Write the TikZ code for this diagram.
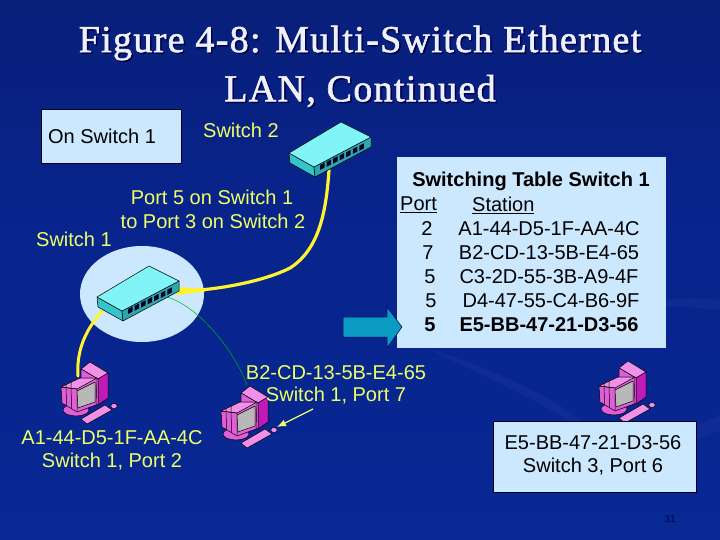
\documentclass[tikz,border=0pt]{standalone}
\usepackage{fontspec}
\usetikzlibrary{arrows.meta}
\setmainfont{Liberation Sans}
\newfontfamily\titlefont[LetterSpace=3.5,FakeBold=1.6]{Liberation Serif}
\definecolor{boxblue}{HTML}{CCE8FF}
\definecolor{lbl}{HTML}{EEFF66}
\definecolor{cable}{HTML}{FFF22E}
\definecolor{swtop}{HTML}{80F4F6}
\definecolor{swfront}{HTML}{35C4CC}
\definecolor{pk}{HTML}{E05FD8}
\definecolor{pkd}{HTML}{C01AB8}
\definecolor{pkl}{HTML}{F090E8}
\definecolor{ttlcol}{HTML}{EEF0FA}
\pgfdeclareverticalshading{slidebg}{100bp}{
  rgb(0bp)=(0.035,0.17,0.60);
  rgb(55bp)=(0.03,0.14,0.55);
  rgb(80bp)=(0.03,0.12,0.46);
  rgb(90bp)=(0.02,0.07,0.30);
  rgb(100bp)=(0.01,0.02,0.12)}
\tikzset{
  x=1pt,y=-1pt,
  every node/.style={font=\fontsize{20}{22}\selectfont},
  infobox/.style={fill=boxblue,draw=black!85!blue,line width=0.7pt},
  yl/.style={text=lbl,inner sep=0pt,yshift=-1pt},
  bk/.style={text=black,inner sep=0pt,yshift=-1pt},
  ttl/.style={inner sep=0pt,font=\titlefont\fontsize{38}{40}\selectfont},
  boldrow/.style={font=\bfseries\fontsize{20}{22}\selectfont},
  cablethick/.style={draw=cable,line width=3pt,line cap=round},
  swline/.style={draw=black,line width=0.5pt,line join=round},
  pics/switchbox/.style={code={
    \fill[swline,fill=swfront] (0,0)--(25,14)--(26,24)--(1,10)--cycle;
    \fill[swline,fill=swfront!85!black] (25,14)--(82,-16)--(82,-6)--(26,24)--cycle;
    \fill[swline,fill=swtop] (0,0)--(52,-31)--(82,-16)--(25,14)--cycle;
    \foreach \i in {0,...,6}{
      \fill[black!85!blue] ({31+6.55*\i},{12-3.2*\i}) --++(4.5,-2.4)--++(0,5)--++(-4.5,2.4)--cycle;}
  }},
  pics/computer/.style={code={
    \fill[swline,fill=pkl] (30,2)--(48,13)--(38,19)--(21,9)--cycle;
    \fill[swline,fill=pkd] (38,19)--(48,13)--(48,38)--(38,45)--cycle;
    \fill[swline,fill=pk] (21,9)--(38,19)--(38,45)--(21,40)--cycle;
    \fill[swline,fill=pk] (16,50) ellipse [x radius=13,y radius=6];
    \fill[swline,fill=pk] (1,27)--(20,18)--(37,18)--(36,45)--(17,52)--(2,43)--cycle;
    \fill[swline,fill=pkl] (1,27)--(20,18)--(37,18)--(17,29)--cycle;
    \draw[swline] (6,24.5)--(6.5,46) (11,22)--(11.5,49) (1,27)--(17,29)--(17,52);
    \fill[swline,fill=black!28] (17,31)--(35,22)--(35,42)--(18,48)--cycle;
    \fill[swline,fill=pkl] (21,59)--(45,45)--(52,50)--(27,64)--cycle;
    \fill[swline,fill=pkl] (54,46) ellipse [x radius=3.3,y radius=2.5];
  }}
}
\begin{document}
\begin{tikzpicture}
\useasboundingbox (0,0) rectangle (720,540);
\shade[shading=slidebg] (0,0) rectangle (720,540);
% faint background swooshes
\fill[white,opacity=0.03] (420,345) .. controls (520,380) and (590,410) .. (612,460) .. controls (580,415) and (500,385) .. (420,345)--cycle;
\fill[white,opacity=0.03] (520,470) .. controls (600,460) and (670,440) .. (720,415) -- (720,430) .. controls (660,455) and (590,470) .. (520,470)--cycle;
\fill[white,opacity=0.03] (600,320) .. controls (640,300) and (680,295) .. (720,300) -- (720,310) .. controls (680,305) and (640,305) .. (600,320)--cycle;

\node[ttl,text=black!70!blue] (title1s) at (361.5,44.5) {Figure 4-8: Multi-Switch Ethernet};
\node[ttl,text=black!70!blue] (title2s) at (361.5,92.5) {LAN, Continued};
\node[ttl,text=ttlcol] (title1) at (360,43) {Figure 4-8: Multi-Switch Ethernet};
\node[ttl,text=ttlcol] (title2) at (360,91) {LAN, Continued};

\fill[boxblue] (142,294) ellipse [x radius=62,y radius=48];

\coordinate (sw1a) at (178,291);
\coordinate (sw2a) at (329,170);
\coordinate (sw1b) at (103,310);
\coordinate (pcA) at (78,376);
\coordinate (sw1c) at (167,297);
\coordinate (pcB) at (247,385);
\draw[cablethick,line width=3.2pt] (sw1a) .. controls (215,291) and (265,281) .. (290,268) .. controls (318,250) and (326,215) .. (sw2a);
\fill[cable] (176,287)--(205,288.5)--(205,291.5)--(176,295)--cycle;
\draw[cablethick] (sw1b) .. controls (90,325) and (76,345) .. (pcA);
\draw[draw=green!70!black,line width=0.5pt] (sw1c) .. controls (195,305) and (232,345) .. (pcB);

\pic at (97,297) {switchbox};
\pic at (289,153) {switchbox};
\pic at (60,360) {computer};
\pic at (220,384) {computer};
\pic at (598,359) {computer};

\node[infobox,minimum width=140pt,minimum height=54pt,inner sep=0pt] (box1) at (111,136) {};
\node[bk] (t1) at (102,135) {On Switch 1};

\node[infobox,draw=none,minimum width=269pt,minimum height=191pt,inner sep=0pt] (tbl) at (531.5,252.5) {};
\node[bk,boldrow] (h) at (531,180) {Switching Table Switch 1};
\node[bk,anchor=west] (p0) at (400,204) {\underline{Port}};
\node[bk,anchor=west] (s0) at (472,204) {\underline{Station}};
\node[bk] (p1) at (427,228) {2};
\node[bk] (s1) at (549,228) {A1-44-D5-1F-AA-4C};
\node[bk] (p2) at (428,252) {7};
\node[bk] (s2) at (549,252) {B2-CD-13-5B-E4-65};
\node[bk] (p3) at (430,276) {5};
\node[bk] (s3) at (549,276) {C3-2D-55-3B-A9-4F};
\node[bk] (p4) at (431,300) {5};
\node[bk] (s4) at (551,300) {D4-47-55-C4-B6-9F};
\node[bk,boldrow] (p5) at (430,324) {5};
\node[bk,boldrow] (s5) at (549,324) {E5-BB-47-21-D3-56};

\fill[draw=black!70!blue,line width=0.5pt,fill={rgb,255:red,10;green,155;blue,195}]
  (343,317)--(387,317)--(387,307)--(402,327)--(387,348)--(387,337)--(343,337)--cycle;

\node[infobox,minimum width=203pt,minimum height=71pt,inner sep=0pt] (box3) at (594.5,456.5) {};
\node[bk] (e1) at (593,442) {E5-BB-47-21-D3-56};
\node[bk] (e2) at (593,466) {Switch 3, Port 6};

\node[yl] (sw2) at (241,129) {Switch 2};
\node[yl] (sw1) at (74,238) {Switch 1};
\node[yl] (pl1) at (212,196) {Port 5 on Switch 1};
\node[yl] (pl2) at (213,220) {to Port 3 on Switch 2};
\node[yl] (b1) at (336,372) {B2-CD-13-5B-E4-65};
\node[yl] (b2) at (336,395) {Switch 1, Port 7};
\node[yl] (a1) at (112,437) {A1-44-D5-1F-AA-4C};
\node[yl] (a2) at (112,461) {Switch 1, Port 2};
\node[text=black!70!blue,inner sep=0pt,font=\fontsize{10}{12}\selectfont] (num) at (670,519) {31};

\coordinate (arrA) at (313,409);
\coordinate (arrB) at (277,427);
\draw[draw=lbl,line width=1.2pt,-{Latex[length=9pt,width=7pt]}] (arrA) -- (arrB);
\end{tikzpicture}
\end{document}
